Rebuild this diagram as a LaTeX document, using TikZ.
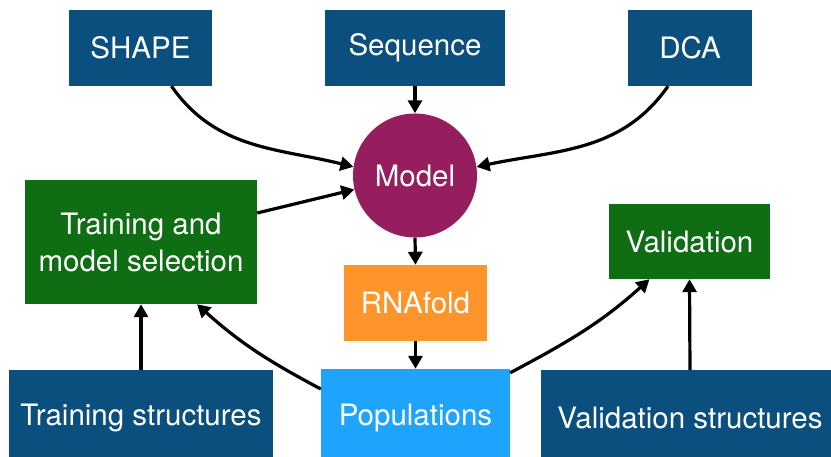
\documentclass[tikz,border=0pt]{standalone}
\usepackage{fontspec}
\setmainfont{TeX Gyre Heros}
\usepackage{tikz}
\usetikzlibrary{shapes,arrows.meta,positioning,calc}
\usepackage{xcolor}
\definecolor{datablue}{RGB}{11,79,127}
\definecolor{stepgreen}{RGB}{15,110,20}
\definecolor{modelpurple}{RGB}{150,30,94}
\definecolor{foldorange}{RGB}{253,149,42}
\definecolor{poplightblue}{RGB}{30,164,252}

\begin{document}
\begin{tikzpicture}[
    x=1pt, y=1pt,
    box/.style={rectangle, fill=datablue, text=white, align=center,
                font=\fontsize{29.5}{37}\selectfont, inner sep=0pt},
    flow/.style={line width=3.2pt, -{Triangle[length=13pt,width=14pt]}}
]
    \useasboundingbox (0,0) rectangle (831,456);
    \node[box, minimum width=143, minimum height=76] (shape) at (140.5,408) {SHAPE};
    \node[box, minimum width=180, minimum height=76] (seq) at (415,408) {Sequence};
    \node[box, minimum width=124, minimum height=76] (dca) at (690,408) {DCA};
    \node[box, circle, fill=modelpurple, minimum size=124] (model) at (415,280.5) {Model};
    \node[box, fill=stepgreen, minimum width=232, minimum height=124] (train) at (141,214) {Training and\\model selection};
    \node[box, fill=foldorange, minimum width=143, minimum height=76] (fold) at (415.5,153) {RNAfold};
    \node[box, fill=stepgreen, minimum width=161, minimum height=75] (valid) at (689.5,214.5) {Validation};
    \node[box, minimum width=264, minimum height=96] (trainstruct) at (141,38) {Training structures};
    \node[box, fill=poplightblue, minimum width=189, minimum height=98] (pop) at (415.5,38) {Populations};
    \node[box, minimum width=298, minimum height=96] (validstruct) at (690,38) {Validation structures};

    \draw[flow] ([xshift=31pt]shape.south) to[out=-55, in=166] (model.172);
    \draw[flow] (seq.south) -- (model.north);
    \draw[flow] ([xshift=-22pt]dca.south) to[out=-125, in=12] (model.8);
    \draw[flow] ([yshift=29pt]train.east) -- (model.193);
    \draw[flow] (model.south) -- (fold.north);
    \draw[flow] (fold.south) -- (pop.north);
    \draw[flow] ([yshift=29pt]pop.west) to[out=152, in=-42] ([xshift=56pt]train.south);
    \draw[flow] ([yshift=-4pt]pop.north east) to[out=28, in=-138] ([xshift=-40pt]valid.south);
    \draw[flow] (trainstruct.north) -- (train.south);
    \draw[flow] (validstruct.north) -- (valid.south);
\end{tikzpicture}
\end{document}
